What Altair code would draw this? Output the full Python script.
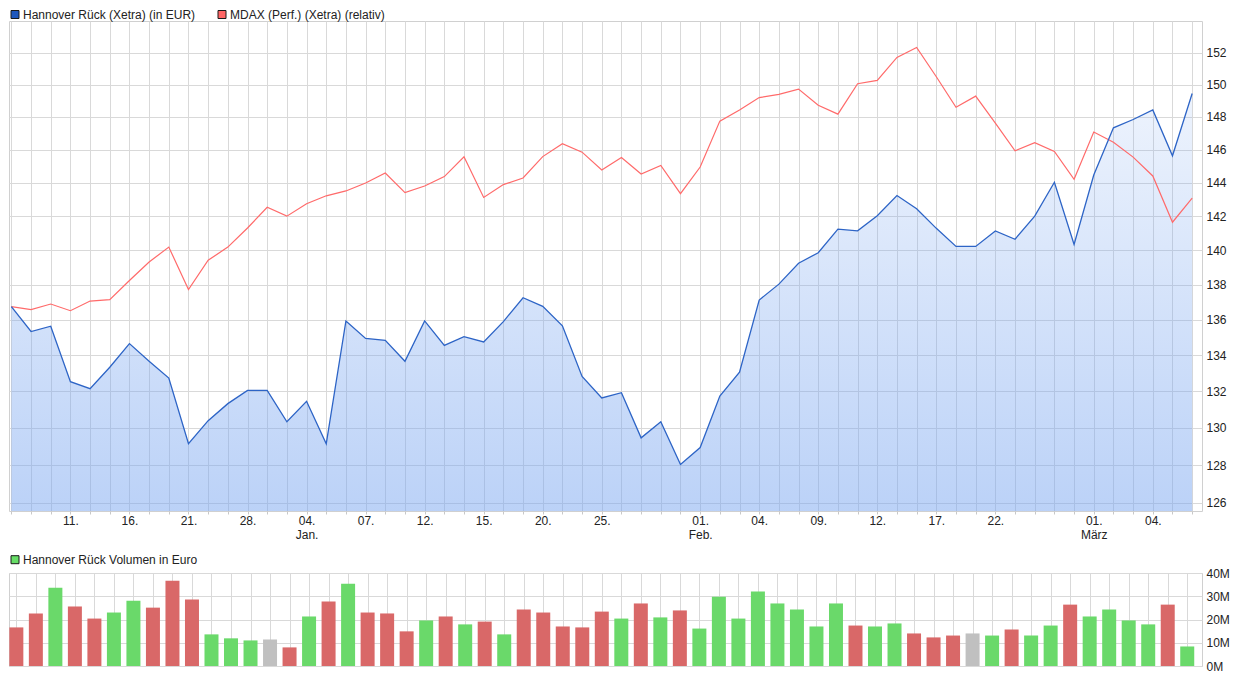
import altair as alt
import pandas as pd

# ---- data (one value per trading day, index 0..60) ----
price = [136.74, 135.33, 135.63, 132.53, 132.14, 133.33, 134.65, 133.66, 132.73, 129.14,
         130.39, 131.32, 132.05, 132.05, 130.33, 131.45, 129.14, 135.93, 134.94, 134.83,
         133.66, 135.93, 134.55, 135.04, 134.74, 135.89, 137.25, 136.76, 135.65, 132.82,
         131.63, 131.92, 129.46, 130.33, 128.03, 128.94, 131.74, 133.06, 137.12, 138.03,
         139.24, 139.85, 141.23, 141.13, 142.03, 143.23, 142.44, 141.28, 140.22, 140.22,
         141.13, 140.64, 142.00, 144.02, 140.33, 144.46, 147.33, 147.84, 148.43, 145.62,
         149.45]

mdax = [136.74, 136.57, 136.89, 136.51, 137.06, 137.14, 138.24, 139.31, 140.18, 137.72,
        139.41, 140.18, 141.30, 142.53, 142.00, 142.74, 143.21, 143.50, 143.98, 144.58,
        143.40, 143.80, 144.36, 145.56, 143.11, 143.88, 144.28, 145.57, 146.36, 145.84,
        144.76, 145.51, 144.52, 145.03, 143.34, 144.94, 147.74, 148.43, 149.20, 149.40,
        149.73, 148.72, 148.17, 150.06, 150.27, 151.72, 152.35, 150.50, 148.60, 149.29,
        147.62, 145.92, 146.42, 145.88, 144.20, 147.07, 146.44, 145.54, 144.40, 141.64,
        143.07]

volume_m = [16.6, 22.6, 33.7, 25.6, 20.4, 23.0, 28.1, 25.1, 36.7, 28.6,
            13.6, 11.9, 11.0, 11.4, 8.0, 21.3, 27.7, 35.4, 23.0, 22.6,
            14.9, 19.6, 21.3, 17.9, 19.1, 13.6, 24.3, 23.0, 17.0, 16.6,
            23.4, 20.4, 26.9, 20.9, 23.9, 16.1, 29.8, 20.4, 32.0, 26.9,
            24.3, 17.0, 26.9, 17.4, 17.0, 18.3, 14.0, 12.3, 13.1, 14.0,
            13.1, 15.7, 13.1, 17.4, 26.4, 21.3, 24.3, 19.6, 17.9, 26.4,
            8.4]

# d = down (red), u = up (green), n = unchanged (grey)
direction = list("ddudduuddd" "uuundududd" "dudududddd" "dududuuuuu"
                 "uuuduudddn" "uduuduuuud" "u")

tick_index = [3, 6, 9, 12, 15, 18, 21, 24, 27, 30, 35, 38, 41, 44, 47, 50, 55, 58]
tick_day = ["11.", "16.", "21.", "28.", "04.", "07.", "12.", "15.", "20.", "25.",
            "01.", "04.", "09.", "12.", "17.", "22.", "01.", "04."]
tick_month = ["", "", "", "", "Jan.", "", "", "", "", "",
              "Feb.", "", "", "", "", "", "März", ""]

price_ticks = [126, 128, 130, 132, 134, 136, 138, 140, 142, 144, 146, 148, 150, 152]
volume_ticks = [0, 10, 20, 30, 40]

label_price = "Hannover Rück (Xetra) (in EUR)"
label_mdax = "MDAX (Perf.) (Xetra) (relativ)"
label_volume = "Hannover Rück Volumen in Euro"

# ---- layout constants ----
W = 1193
H_TOP = 490
H_VOL = 93
X_DOMAIN = [-0.12, 60.5]
Y_DOMAIN = [125.57, 154.04]
FONT = "Liberation Sans"

df = pd.DataFrame({
    "i": list(range(len(price))),
    "price": price,
    "mdax": mdax,
    "vol": volume_m,
    "dir": direction,
})

parts = []
for i, d, m in zip(tick_index, tick_day, tick_month):
    lab = f"['{d}', '{m}']" if m else f"'{d}'"
    parts.append(f"datum.value === {i} ? {lab} : ")
label_expr = "".join(parts) + "''"

x_top = alt.X("i:Q", scale=alt.Scale(domain=X_DOMAIN, nice=False, zero=False),
              axis=alt.Axis(values=list(range(len(price))), labelExpr=label_expr,
                            grid=True, ticks=True, tickSize=3, tickColor="#c8c8c8",
                            labelPadding=1, domain=False, title=None,
                            labelOverlap=False, labelAngle=0, labelFlush=False))
y_top = alt.Y("price:Q", scale=alt.Scale(type="log", domain=Y_DOMAIN, nice=False, zero=False),
              axis=alt.Axis(orient="right", values=price_ticks, format="d", grid=True,
                            ticks=False, domain=False, labelPadding=4, title=None))

grad = alt.Gradient(
    gradient="linear",
    stops=[alt.GradientStop(color="rgba(120,165,240,0.13)", offset=0),
           alt.GradientStop(color="rgba(120,165,240,0.50)", offset=1)],
    x1=1, x2=1, y1=0, y2=1,
)

base = alt.Chart(df)
area = base.mark_area(color=grad).encode(x=x_top, y=y_top, y2=alt.datum(Y_DOMAIN[0]))
mdax_line = base.mark_line(color="#ff6a6a", strokeWidth=1.2).encode(
    x=x_top, y=alt.Y("mdax:Q", scale=alt.Scale(type="log", domain=Y_DOMAIN, nice=False, zero=False)))
price_line = base.mark_line(color="#2d64c6", strokeWidth=1.3).encode(x=x_top, y=y_top)

one = pd.DataFrame({"k": [0]})


def legend_item(xc, yc, color, label):
    sq = alt.Chart(one).mark_square(size=64, fill=color, stroke="#1a1a1a", strokeWidth=1,
                                    opacity=1).encode(x=alt.value(xc), y=alt.value(yc))
    tx = alt.Chart(one).mark_text(text=label, align="left", baseline="middle", fontSize=12,
                                  font=FONT, color="#222222").encode(
        x=alt.value(xc + 8), y=alt.value(yc))
    return [sq, tx]


top = alt.layer(
    area, mdax_line, price_line,
    *legend_item(6, -6.5, "#1f58bd", label_price),
    *legend_item(213, -6.5, "#ff6666", label_mdax),
).properties(width=W, height=H_TOP)

x_vol = alt.X("i:Q", scale=alt.Scale(domain=X_DOMAIN, nice=False, zero=False),
              axis=alt.Axis(values=list(range(len(price))), labels=False, ticks=False,
                            grid=True, domain=False, title=None))
y_vol = alt.Y("vol:Q", scale=alt.Scale(domain=[0, 40], nice=False),
              axis=alt.Axis(orient="right", values=volume_ticks, labelExpr="datum.value + 'M'",
                            grid=True, ticks=False, domain=False, labelPadding=4, title=None))

bars = base.mark_bar(width=14).encode(
    x=x_vol, y=y_vol,
    color=alt.Color("dir:N", scale=alt.Scale(domain=["d", "u", "n"],
                                             range=["#d96868", "#6ad96a", "#c0c0c0"]),
                    legend=None),
)

bottom = alt.layer(
    bars,
    *legend_item(6, -13.3, "#66dd66", label_volume),
).properties(width=W, height=H_VOL)

chart = alt.vconcat(top, bottom, spacing=12).properties(
    padding={"left": 0, "top": 0, "right": 0, "bottom": 0}
).configure(font=FONT).configure_view(
    stroke="#d0d0d0", strokeWidth=1
).configure_axis(
    gridColor="#d9d9d9", gridWidth=1, labelFont=FONT, labelFontSize=12,
    labelColor="#222222"
)

chart.save("out.html", embed_options={"renderer": "svg", "actions": False})
